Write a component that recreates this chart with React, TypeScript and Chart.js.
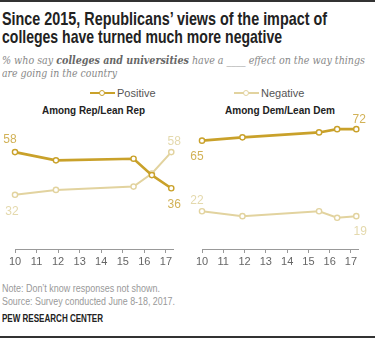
import React, { useEffect, useLayoutEffect, useRef } from "react";
import { Chart, registerables } from "chart.js";

Chart.register(...registerables);

// ---- data ----
const surveyYears = [10, 11.9, 15.5, 16.35, 17.25];
const repPositive = [58, 53, 54, 44, 36];
const repNegative = [32, 35, 37, 45, 58];
const demPositive = [65, 67, 70, 72, 72];
const demNegative = [22, 19, 22, 18, 19];
const xTickValues = [10, 11, 12, 13, 14, 15, 16, 17];
const xTickLabels = ["10", "11", "12", "13", "14", "15", "16", "17"];
const seriesNames = ["Positive", "Negative"];

const POS_LINE = "#c9a12a";
const NEG_LINE = "#e2d39f";
const POS_LABEL = "#d2b257";
const NEG_LABEL = "#e4d9ad";
const SANS = "'Liberation Sans Narrow', 'Liberation Sans', Arial, sans-serif";

type LabelSpec = { ds: number; i: number; dx: number; dy: number };

const labelPlugin = {
  id: "pointLabels",
  afterDatasetsDraw(chart: any, _args: any, opts: any) {
    const specs: LabelSpec[] = opts.specs || [];
    const ctx = chart.ctx;
    ctx.save();
    ctx.font = `12px ${SANS}`;
    ctx.textAlign = "center";
    ctx.textBaseline = "middle";
    specs.forEach((s) => {
      const meta = chart.getDatasetMeta(s.ds);
      const el = meta.data[s.i];
      const raw = chart.data.datasets[s.ds].data[s.i];
      const v = typeof raw === "object" ? raw.y : raw;
      ctx.fillStyle = s.ds === 0 ? POS_LABEL : NEG_LABEL;
      ctx.fillText(String(v), el.x + s.dx, el.y + s.dy);
    });
    ctx.restore();
  },
};

function Panel(props: {
  pos: number[];
  neg: number[];
  width: number;
  padLeft: number;
  padRight: number;
  specs: LabelSpec[];
}) {
  const ref = useRef<HTMLCanvasElement>(null);
  useEffect(() => {
    const mk = (vals: number[], color: string, w: number) => ({
      data: vals.map((y, k) => ({ x: surveyYears[k], y })),
      borderColor: color,
      borderWidth: w,
      pointRadius: 2.6,
      pointBorderWidth: 1.4,
      pointBorderColor: color,
      pointBackgroundColor: "#ffffff",
      tension: 0,
      clip: false as any,
    });
    const chart = new Chart(ref.current!, {
      type: "line",
      data: {
        datasets: [
          { label: seriesNames[0], ...mk(props.pos, POS_LINE, 2.6) },
          { label: seriesNames[1], ...mk(props.neg, NEG_LINE, 2) },
        ],
      },
      options: {
        responsive: false,
        animation: false,
        events: [],
        layout: { padding: { top: 16, left: props.padLeft, right: props.padRight, bottom: 0 } },
        plugins: {
          legend: { display: false },
          tooltip: { enabled: false },
          pointLabels: { specs: props.specs },
        } as any,
        scales: {
          x: {
            type: "linear",
            min: 10,
            max: 17.33,
            afterBuildTicks: (s: any) => {
              s.ticks = xTickValues.map((v) => ({ value: v }));
            },
            afterFit: (s: any) => {
              s.height = 26;
            },
            ticks: {
              autoSkip: false,
              maxRotation: 0,
              padding: 2,
              color: "#666",
              font: { family: "'Liberation Sans', Arial, sans-serif", size: 11 },
              callback: (v: any) => xTickLabels[xTickValues.indexOf(Number(v))],
            },
            grid: { drawOnChartArea: false, drawTicks: true, tickLength: 4, color: "#999" },
            border: { color: "#999", width: 1 },
          },
          y: { display: false, min: -1, max: 80 },
        },
      },
      plugins: [labelPlugin],
    });
    return () => chart.destroy();
  }, []);
  return <canvas ref={ref} width={props.width} height={175} style={{ display: "block" }} />;
}

function Txt(props: {
  x: number;
  cy: number;
  w?: number;
  size: number;
  weight?: any;
  italic?: boolean;
  color?: string;
  family?: string;
  children: any;
}) {
  const ref = useRef<HTMLDivElement>(null);
  useLayoutEffect(() => {
    const el = ref.current!;
    if (props.w) {
      const actual = el.getBoundingClientRect().width;
      if (actual > 0) el.style.transform = `scaleX(${props.w / actual})`;
    }
  }, []);
  const lh = Math.round(props.size * 1.3);
  return (
    <div
      ref={ref}
      style={{
        position: "absolute",
        left: props.x,
        top: props.cy - lh / 2,
        lineHeight: lh + "px",
        fontSize: props.size,
        fontWeight: props.weight ?? "normal",
        fontStyle: props.italic ? "italic" : "normal",
        color: props.color ?? "#000",
        fontFamily: props.family ?? SANS,
        whiteSpace: "nowrap",
        transformOrigin: "0 50%",
      }}
    >
      {props.children}
    </div>
  );
}

function LegendItem(props: { x1: number; x2: number; cy: number; color: string; w: number; tx: number; label: string }) {
  const cx = (props.x1 + props.x2) / 2;
  return (
    <>
      <div
        style={{
          position: "absolute",
          left: props.x1,
          top: props.cy - props.w / 2,
          width: props.x2 - props.x1,
          height: props.w,
          background: props.color,
        }}
      />
      <div
        style={{
          position: "absolute",
          left: cx - 3.5,
          top: props.cy - 3.5,
          width: 4,
          height: 4,
          borderRadius: "50%",
          border: `1.5px solid ${props.color}`,
          background: "#fff",
        }}
      />
      <Txt x={props.tx} cy={props.cy} size={11} color="#555">
        {props.label}
      </Txt>
    </>
  );
}

export default function App() {
  const serif = "'DejaVu Serif', 'Liberation Serif', Georgia, serif";
  return (
    <div style={{ position: "absolute", left: 0, top: 0, width: 375, height: 338, background: "#fff", overflow: "hidden" }}>
      <div style={{ position: "absolute", left: 0, top: 0, width: 375, height: 2, background: "#333" }} />
      <Txt x={2} cy={19} w={325} size={18.5} weight="bold" color="#222">
        Since 2015, Republicans’ views of the impact of
      </Txt>
      <Txt x={2} cy={37} w={280} size={18.5} weight="bold" color="#222">
        colleges have turned much more negative
      </Txt>
      <Txt x={2} cy={60} w={363} size={11.5} italic color="#888" family={serif}>
        % who say <b style={{ color: "#666" }}>colleges and universities</b> have a ____ effect on the way things
      </Txt>
      <Txt x={2} cy={73} w={115} size={11.5} italic color="#888" family={serif}>
        are going in the country
      </Txt>

      <LegendItem x1={90} x2={115} cy={93} color={POS_LINE} w={2.6} tx={117} label={seriesNames[0]} />
      <LegendItem x1={234} x2={259} cy={93} color={NEG_LINE} w={2} tx={261} label={seriesNames[1]} />

      <Txt x={42} cy={110} w={103} size={11} weight="bold" color="#222">
        Among Rep/Lean Rep
      </Txt>
      <Txt x={225} cy={110} w={110} size={11} weight="bold" color="#222">
        Among Dem/Lean Dem
      </Txt>

      <div style={{ position: "absolute", left: 0, top: 100 }}>
        <Panel
          pos={repPositive}
          neg={repNegative}
          width={187}
          padLeft={15}
          padRight={14}
          specs={[
            { ds: 0, i: 0, dx: -5, dy: -12 },
            { ds: 1, i: 0, dx: -3, dy: 17 },
            { ds: 1, i: 4, dx: 3, dy: -10 },
            { ds: 0, i: 4, dx: 3, dy: 16 },
          ]}
        />
      </div>
      <div style={{ position: "absolute", left: 187, top: 100 }}>
        <Panel
          pos={demPositive}
          neg={demNegative}
          width={188}
          padLeft={15}
          padRight={17}
          specs={[
            { ds: 0, i: 0, dx: -5, dy: 16 },
            { ds: 0, i: 4, dx: 3, dy: -9 },
            { ds: 1, i: 0, dx: -5, dy: -11 },
            { ds: 1, i: 4, dx: 4, dy: 16 },
          ]}
        />
      </div>

      <Txt x={2} cy={288} w={158} size={10.5} color="#999">
        Note: Don’t know responses not shown.
      </Txt>
      <Txt x={2} cy={301} w={173} size={10.5} color="#999">
        Source: Survey conducted June 8-18, 2017.
      </Txt>
      <Txt x={2} cy={318} w={101} size={10} weight="bold" color="#222">
        PEW RESEARCH CENTER
      </Txt>
      <div style={{ position: "absolute", left: 0, top: 336, width: 375, height: 2, background: "#333" }} />
    </div>
  );
}
